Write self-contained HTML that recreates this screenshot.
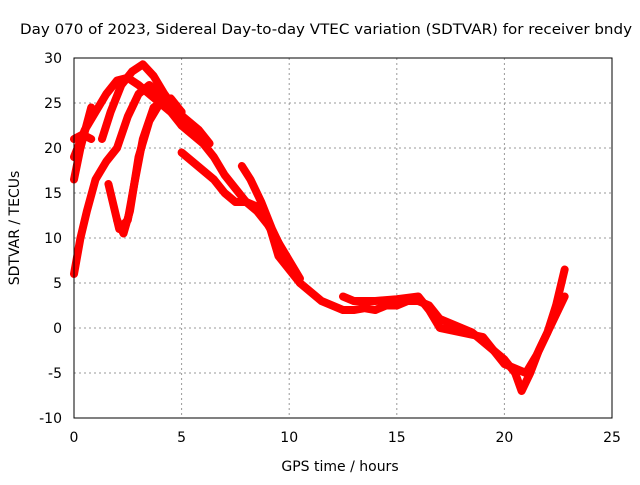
<!DOCTYPE html>
<html><head><meta charset="utf-8"><style>
body{margin:0;background:#fff}
svg text{font-family:"DejaVu Sans","Liberation Sans",sans-serif;font-size:14px;fill:#000}
</style></head><body>
<svg id="c" width="640" height="480" xmlns="http://www.w3.org/2000/svg">
<text x="326" y="34" text-anchor="middle" textLength="612" lengthAdjust="spacingAndGlyphs">Day 070 of 2023, Sidereal Day-to-day VTEC variation (SDTVAR) for receiver bndy</text>
<text x="340" y="471" text-anchor="middle">GPS time / hours</text>
<text transform="translate(19,228) rotate(-90)" text-anchor="middle">SDTVAR / TECUs</text>
<g id="grid"></g><g id="series"></g><g id="axes"></g>
</svg>
<script>
const xTicks=[0,5,10,15,20,25];
const yTicks=[-10,-5,0,5,10,15,20,25,30];
const track1=[[0,19],[0.5,22],[1,24],[1.5,26],[2,27.5],[2.5,27.8],[3,27],[3.5,26],[4,25],[4.5,24],[5,22.5],[5.5,21.5],[6,20.5],[6.5,19],[7,17],[7.5,15.5],[8,14],[8.5,13],[9,11.5],[9.5,9.5],[10,7.5],[10.5,5.5]];
const track2=[[0,16.5],[0.3,20],[0.8,24.5]];
const track3=[[1.3,21],[1.7,24],[2.2,27],[2.7,28.5],[3.2,29.3],[3.7,28],[4.2,26],[4.8,24],[5.3,23],[5.8,22],[6.3,20.5]];
const track4=[[0,6],[0.3,10],[0.6,13],[1,16.5],[1.5,18.5],[2,20],[2.5,23.5],[3,26],[3.5,27],[4,26],[4.5,25],[5,24]];
const track5=[[2,12],[2.3,10.5],[2.6,13],[3,19],[3.5,23],[4,25],[4.5,25.5],[5,24]];
const track6=[[1.6,16],[2.1,11],[2.5,12],[2.8,16],[3.2,21],[3.7,24.5],[4.3,25.5],[5,22.5]];
const track7=[[5,19.5],[5.5,18.5],[6,17.5],[6.5,16.5],[7,15],[7.5,14],[8,14],[8.5,13.5],[9,12],[9.5,8],[10,6.5],[10.5,5]];
const track8=[[7.8,18],[8.2,16.5],[8.7,14],[9.2,11],[9.6,9]];
const track9=[[0,21],[0.4,21.5],[0.8,21]];
const track10=[[10.5,5],[11,4],[11.5,3],[12,2.5],[12.5,2],[13,2],[13.5,2.2],[14,2],[14.5,2.5],[15,2.5],[15.5,3],[16,3],[16.5,2.5],[17,1],[17.5,0.5],[18,0],[18.5,-0.5],[19,-1.5],[19.5,-2.5],[20,-3.5],[20.5,-5],[20.8,-7],[21.2,-5],[21.6,-2.5],[22,-0.5],[22.4,2.5],[22.8,6.5]];
const track11=[[12.5,3.5],[13,3],[14,3],[15,3.2],[16,3.5],[16.5,2],[17,0],[18,-0.5],[19,-1],[19.5,-2.5],[20,-4],[20.5,-4.5],[21,-5],[21.5,-3],[22,-0.5],[22.5,2],[22.8,3.5]];
const tracks=[track1,track2,track3,track4,track5,track6,track7,track8,track9,track10,track11];
const X0=74,X1=612,Y0=418,Y1=58;
const sx=v=>X0+(v-0)/25*(X1-X0);
const sy=v=>Y0-(v+10)/40*(Y0-Y1);
const NS="http://www.w3.org/2000/svg";
function mk(t,a,p){const e=document.createElementNS(NS,t);for(const k in a)e.setAttribute(k,a[k]);p.appendChild(e);return e;}
const grid=document.getElementById('grid'),axes=document.getElementById('axes'),ser=document.getElementById('series');
xTicks.forEach(t=>{
 if(t>0&&t<25){const l=mk('line',{x1:sx(t),x2:sx(t),y1:Y1,y2:Y0,stroke:'#999','stroke-dasharray':'2,3'},grid);
 
 }
 const tx=mk('text',{x:sx(t),y:Y0+24,'text-anchor':'middle'},axes);tx.textContent=t;
 
 
});
yTicks.forEach(t=>{
 if(t>-10&&t<30){const l=mk('line',{x1:X0,x2:X1,y1:sy(t),y2:sy(t),stroke:'#999','stroke-dasharray':'2,3'},grid);
 
 }
 const tx=mk('text',{x:X0-12,y:sy(t)+5,'text-anchor':'end'},axes);tx.textContent=t;
 
 
});
const fr=mk('rect',{x:X0,y:Y1,width:X1-X0,height:Y0-Y1,fill:'none',stroke:'#000'},axes);


tracks.forEach(tr=>{
 const p=mk('polyline',{points:tr.map(d=>sx(d[0])+','+sy(d[1])).join(' '),fill:'none',stroke:'#f00','stroke-width':8,'stroke-linejoin':'round','stroke-linecap':'round'},ser);
 
 
});
</script>
</body></html>
